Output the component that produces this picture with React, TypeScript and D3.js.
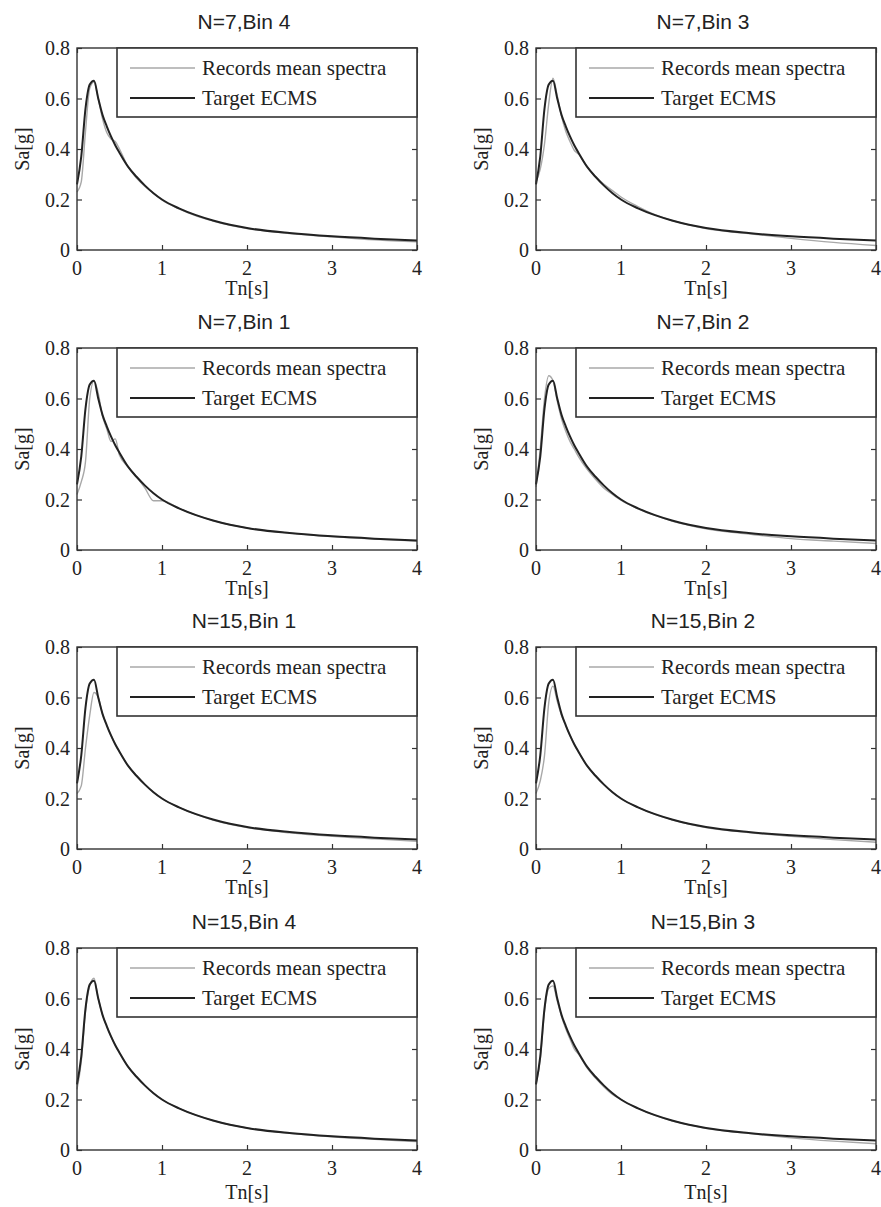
import React, { useEffect, useRef } from "react";
import * as d3 from "d3";

// spectral periods (s)
const periods = [0, 0.05, 0.1, 0.15, 0.2, 0.25, 0.3, 0.35, 0.4, 0.45, 0.5, 0.6, 0.7, 0.8, 0.9, 1.0, 1.2, 1.4, 1.6, 1.8, 2.0, 2.5, 3.0, 3.5, 4.0]

// target conditional mean spectrum (same in every panel)
const targetECMS = [0.26, 0.37, 0.56, 0.655, 0.67, 0.6, 0.535, 0.49, 0.45, 0.415, 0.385, 0.33, 0.29, 0.255, 0.225, 0.2, 0.165, 0.138, 0.117, 0.1, 0.087, 0.067, 0.054, 0.045, 0.038]

// records mean spectra, one per panel
const recN7Bin4 = [0.23, 0.27, 0.47, 0.64, 0.665, 0.6, 0.52, 0.465, 0.44, 0.43, 0.4, 0.33, 0.285, 0.252, 0.225, 0.198, 0.163, 0.135, 0.115, 0.098, 0.085, 0.065, 0.052, 0.04, 0.032]
const recN7Bin3 = [0.27, 0.32, 0.42, 0.58, 0.68, 0.61, 0.53, 0.47, 0.43, 0.395, 0.38, 0.33, 0.29, 0.26, 0.235, 0.21, 0.172, 0.14, 0.117, 0.1, 0.085, 0.065, 0.046, 0.03, 0.018]
const recN7Bin1 = [0.22, 0.27, 0.35, 0.6, 0.67, 0.62, 0.53, 0.48, 0.43, 0.44, 0.375, 0.33, 0.29, 0.245, 0.195, 0.195, 0.165, 0.138, 0.117, 0.1, 0.087, 0.067, 0.053, 0.043, 0.035]
const recN7Bin2 = [0.25, 0.4, 0.6, 0.69, 0.67, 0.59, 0.52, 0.47, 0.43, 0.4, 0.37, 0.32, 0.28, 0.245, 0.22, 0.197, 0.163, 0.137, 0.115, 0.098, 0.084, 0.063, 0.045, 0.035, 0.026]
const recN15Bin1 = [0.22, 0.25, 0.4, 0.53, 0.62, 0.6, 0.535, 0.49, 0.45, 0.415, 0.385, 0.33, 0.29, 0.255, 0.225, 0.2, 0.165, 0.137, 0.115, 0.098, 0.085, 0.064, 0.05, 0.04, 0.03]
const recN15Bin2 = [0.22, 0.27, 0.37, 0.58, 0.645, 0.585, 0.53, 0.49, 0.45, 0.415, 0.385, 0.33, 0.29, 0.255, 0.225, 0.2, 0.165, 0.137, 0.116, 0.099, 0.085, 0.065, 0.05, 0.037, 0.027]
const recN15Bin4 = [0.24, 0.35, 0.55, 0.65, 0.68, 0.6, 0.535, 0.49, 0.45, 0.415, 0.385, 0.33, 0.29, 0.255, 0.225, 0.2, 0.165, 0.138, 0.117, 0.1, 0.087, 0.066, 0.052, 0.042, 0.033]
const recN15Bin3 = [0.26, 0.36, 0.55, 0.64, 0.65, 0.59, 0.53, 0.48, 0.44, 0.4, 0.38, 0.325, 0.285, 0.25, 0.22, 0.2, 0.165, 0.137, 0.116, 0.1, 0.086, 0.066, 0.048, 0.035, 0.025]

const panelTitles = ["N=7,Bin 4", "N=7,Bin 3", "N=7,Bin 1", "N=7,Bin 2", "N=15,Bin 1", "N=15,Bin 2", "N=15,Bin 4", "N=15,Bin 3"]
const panelRecords = [recN7Bin4, recN7Bin3, recN7Bin1, recN7Bin2, recN15Bin1, recN15Bin2, recN15Bin4, recN15Bin3]

const xTicks = [0, 1, 2, 3, 4]
const yTicks = [0, 0.2, 0.4, 0.6, 0.8]
const legendLabels = ["Records mean spectra", "Target ECMS"]

const App = () => {
  const chart = useRef<SVGSVGElement>(null)

  useEffect(() => {
    const svg = d3.select(chart.current)
    svg.selectAll('*').remove()

    const colLeft = [77, 536]
    const rowTop = [48, 348, 647, 948]
    const xLabelGap = [45, 45, 45, 49]
    const w = 340
    const h = 202
    const serif = '"Liberation Serif", "Times New Roman", serif'
    const sans = '"Liberation Sans", Arial, sans-serif'

    panelTitles.forEach((title, i) => {
      const row = Math.floor(i / 2)
      const left = colLeft[i % 2]
      const top = rowTop[row]

      const x = d3.scaleLinear().domain([0, 4]).range([0, w])
      const y = d3.scaleLinear().domain([0, 0.8]).range([h, 0])

      const g = svg.append('g').attr('transform', `translate(${left},${top})`)

      // inward ticks on all four sides
      const tl = 5
      g.append('g').call(d3.axisBottom(x).tickValues(xTicks).tickSize(-tl).tickFormat(() => ''))
        .attr('transform', `translate(0,${h})`)
      g.append('g').call(d3.axisTop(x).tickValues(xTicks).tickSize(-tl).tickFormat(() => ''))
      g.append('g').call(d3.axisLeft(y).tickValues(yTicks).tickSize(-tl).tickFormat(() => ''))
      g.append('g').call(d3.axisRight(y).tickValues(yTicks).tickSize(-tl).tickFormat(() => ''))
        .attr('transform', `translate(${w},0)`)
      g.selectAll('.domain').remove()
      g.selectAll('.tick line').attr('stroke', '#333').attr('stroke-width', 1.2)

      // tick labels
      g.selectAll('.xl').data(xTicks).join('text')
        .attr('class', 'xl')
        .attr('x', d => x(d)).attr('y', h + 25)
        .attr('text-anchor', 'middle')
        .attr('font-family', serif).attr('font-size', 20).attr('fill', '#222')
        .text(d => d)
      g.selectAll('.yl').data(yTicks).join('text')
        .attr('class', 'yl')
        .attr('x', -7).attr('y', d => y(d) + 7)
        .attr('text-anchor', 'end')
        .attr('font-family', serif).attr('font-size', 20).attr('fill', '#222')
        .text(d => d === 0 ? '0' : d3.format('.1f')(d))

      // axis labels and title
      g.append('text').attr('x', w / 2).attr('y', h + xLabelGap[row])
        .attr('text-anchor', 'middle').attr('font-family', serif).attr('font-size', 20).attr('fill', '#222')
        .text('Tn[s]')
      g.append('text').attr('transform', `translate(-48,${h / 2}) rotate(-90)`)
        .attr('text-anchor', 'middle').attr('font-family', serif).attr('font-size', 20).attr('fill', '#222')
        .text('Sa[g]')
      g.append('text').attr('x', w / 2 - 3).attr('y', -19)
        .attr('text-anchor', 'middle').attr('font-family', sans).attr('font-size', 21).attr('fill', '#222')
        .text(title)

      const line = d3.line<number>()
        .x((d, j) => x(periods[j]))
        .y(d => y(d))
        .curve(d3.curveMonotoneX)

      g.append('path').datum(panelRecords[i])
        .attr('d', line).attr('fill', 'none')
        .attr('stroke', '#a8a8a8').attr('stroke-width', 1.4)
      g.append('path').datum(targetECMS)
        .attr('d', line).attr('fill', 'none')
        .attr('stroke', '#222').attr('stroke-width', 2)

      // box
      g.append('rect').attr('width', w).attr('height', h)
        .attr('fill', 'none').attr('stroke', '#333').attr('stroke-width', 1.4)

      // legend
      const lx = 40
      const lg = g.append('g')
      lg.append('rect').attr('x', lx).attr('y', 0).attr('width', w - lx).attr('height', 69)
        .attr('fill', '#fff').attr('stroke', '#333').attr('stroke-width', 1.6)
      legendLabels.forEach((lab, k) => {
        const ly = 20 + k * 30
        lg.append('line').attr('x1', lx + 13).attr('x2', lx + 78).attr('y1', ly).attr('y2', ly)
          .attr('stroke', k === 0 ? '#a8a8a8' : '#222').attr('stroke-width', k === 0 ? 1.4 : 2)
        lg.append('text').attr('x', lx + 85).attr('y', ly + 7)
          .attr('font-family', serif).attr('font-size', 21).attr('fill', '#222')
          .text(lab)
      })
    })
  }, [])

  return (
    <div style={{ position: 'absolute', left: 0, top: 0, background: '#fff' }}>
      <svg ref={chart} width={881} height={1207} style={{ display: 'block' }} />
    </div>
  )
};

export default App;
